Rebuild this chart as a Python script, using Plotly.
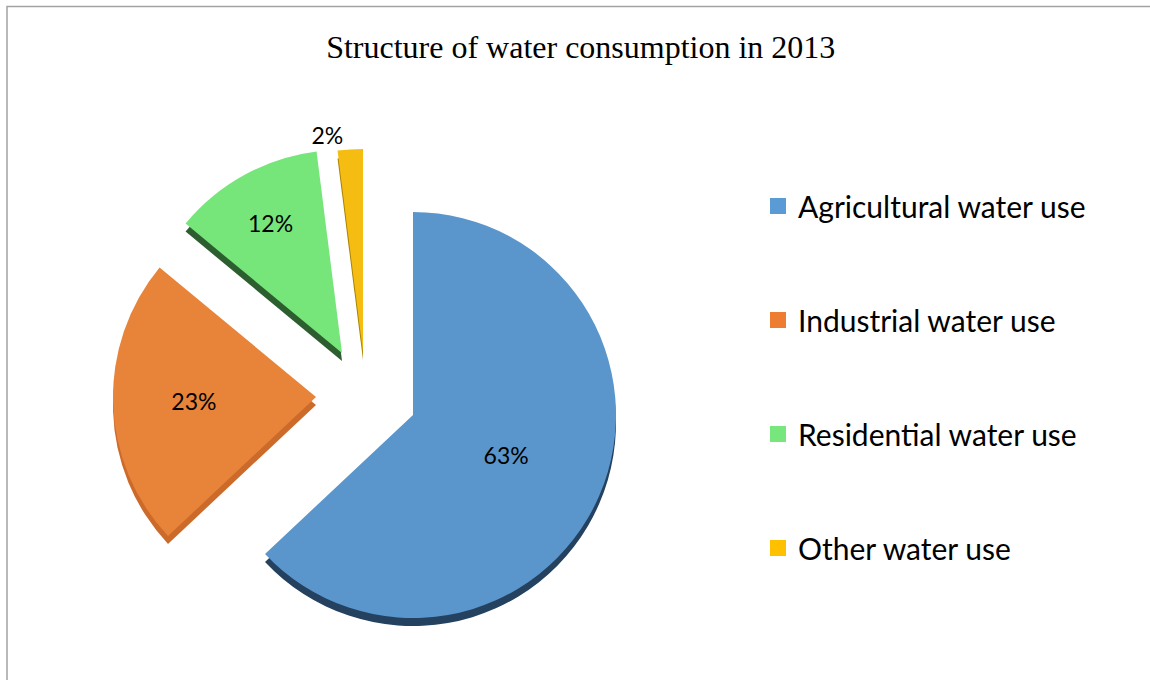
import plotly.graph_objects as go

# ---- data -------------------------------------------------------------
categories = ["Agricultural water use", "Industrial water use",
              "Residential water use", "Other water use"]
shares = [63, 23, 12, 2]

# ---- styling ----------------------------------------------------------
face_colors = ["#5A96CC", "#E8833A", "#76E57A", "#F5BD12"]
side_colors = ["#24415F", "#CC6A2A", "#2D5E2F", "#A98300"]
legend_colors = ["#5B9BD5", "#ED7D31", "#77E67C", "#FFC000"]
label_positions = ["inside", "inside", "inside", "outside"]

W, H = 1150, 680
R = 203        # wedge radius (px)
DEPTH = 8      # visible thickness of the wedge side (px)
# apex of each wedge (px from the top-left corner); the last three are exploded
apex_px = [(413, 415), (316, 397), (342, 353), (363, 352)]

CLEAR = "rgba(0,0,0,0)"
LABEL_FONT = dict(family="Lato, 'Open Sans', sans-serif", size=23, color="black")


def pie_domain(cx, cy):
    return dict(x=[(cx - R) / W, (cx + R) / W],
                y=[(H - cy - R) / H, (H - cy + R) / H])


fig = go.Figure()

# every wedge is its own pie trace so it can sit at its own exploded position;
# the side layer is drawn first, the face layer on top of it
for layer in ("side", "face"):
    for k, (cx, cy) in enumerate(apex_px):
        colors = [CLEAR] * len(shares)
        textpos = ["none"] * len(shares)
        if layer == "side":
            colors[k] = side_colors[k]
            dom = pie_domain(cx, cy + DEPTH)
        else:
            colors[k] = face_colors[k]
            textpos[k] = label_positions[k]
            dom = pie_domain(cx, cy)
        fig.add_trace(go.Pie(
            labels=categories,
            values=shares,
            sort=False,
            direction="clockwise",
            rotation=0,
            marker=dict(colors=colors, line=dict(width=0)),
            textinfo="percent" if layer == "face" else "none",
            textposition=textpos,
            insidetextorientation="horizontal",
            textfont=LABEL_FONT,
            outsidetextfont=LABEL_FONT,
            insidetextfont=LABEL_FONT,
            domain=dom,
            showlegend=False,
            hoverinfo="label+percent" if layer == "face" else "skip",
        ))

# legend entries, one group each so they can be spaced apart
for name, color in zip(categories, legend_colors):
    fig.add_trace(go.Scatter(
        x=[None], y=[None], mode="markers",
        marker=dict(symbol="square", size=18, color=color),
        name=name, legendgroup=name, showlegend=True, hoverinfo="skip",
    ))

fig.update_layout(
    width=W, height=H,
    margin=dict(l=0, r=0, t=0, b=0),
    paper_bgcolor="white",
    plot_bgcolor="white",
    xaxis=dict(visible=False),
    yaxis=dict(visible=False),
    title=dict(
        text="Structure of water consumption in 2013",
        x=0.505, xanchor="center",
        y=1 - 47 / H, yanchor="middle",
        font=dict(family="'Liberation Serif', 'Times New Roman', serif",
                  size=32, color="black"),
    ),
    legend=dict(
        x=758 / W, xanchor="left",
        y=1 - 180 / H, yanchor="top",
        font=dict(family="Lato, 'Open Sans', sans-serif", size=30, color="black"),
        tracegroupgap=72,
        itemwidth=30,
        bgcolor="rgba(0,0,0,0)",
        traceorder="grouped",
    ),
    shapes=[dict(
        type="rect", xref="paper", yref="paper",
        x0=7 / W, x1=1.02, y0=-0.02, y1=1 - 6.5 / H,
        line=dict(color="#A3A3A3", width=1.5),
        fillcolor="rgba(0,0,0,0)",
        layer="below",
    )],
)

fig.write_html("out.html")
